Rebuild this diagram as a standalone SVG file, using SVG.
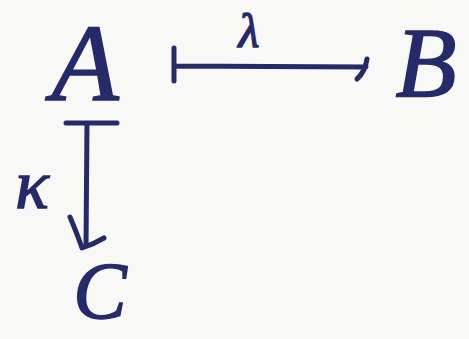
<svg xmlns="http://www.w3.org/2000/svg" width="469" height="339" viewBox="0 0 469 339">
<style>
.bg{fill:#f8f8f6}
.lbl{font-family:"Liberation Serif","DejaVu Serif",serif;font-style:italic;fill:#252a6a;stroke:#252a6a;stroke-width:1.5}
.edge{fill:none;stroke:#252a6a;stroke-width:5;stroke-linecap:round;stroke-linejoin:round}
</style>
<rect class="bg" x="0" y="0" width="469" height="339"/>
<g id="A"><text class="lbl" x="85" y="100" font-size="110" text-anchor="middle">A</text></g>
<g id="B"><text class="lbl" x="426" y="96" font-size="100" text-anchor="middle">B</text></g>
<g id="C"><text class="lbl" x="100" y="318" font-size="80" text-anchor="middle">C</text></g>
<g id="connectors">
<g id="lambda-edge">
<path class="edge" d="M174 48 L174 81 M174 66 L366 67 M367 59 Q365 72 357 79"/>
<text class="lbl" x="249" y="47" font-size="48" text-anchor="middle">λ</text>
</g>
<g id="kappa-edge">
<path class="edge" d="M66 123 L117 123 M87 123 L86 246 M70 217 Q78 236 82 248 Q94 244 104 238"/>
<text class="lbl" x="32" y="208" font-size="70" text-anchor="middle">κ</text>
</g>
</g>
</svg>
